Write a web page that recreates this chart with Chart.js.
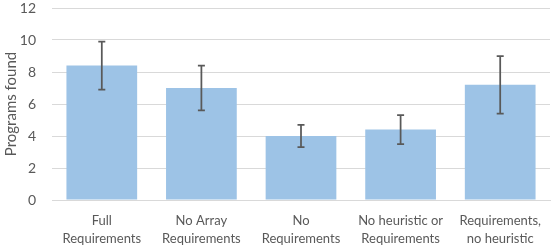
<!DOCTYPE html>
<html>
<head>
<meta charset="utf-8">
<script src="https://cdn.jsdelivr.net/npm/chart.js@4"></script>
<style>
  html, body { margin: 0; padding: 0; background: #fff; }
  #wrap { width: 554px; height: 246px; }
</style>
</head>
<body>
<div id="wrap"><canvas id="myChart" width="554" height="246"></canvas></div>
<script>
const labels = [
  ['Full', 'Requirements'],
  ['No Array', 'Requirements'],
  ['No', 'Requirements'],
  ['No heuristic or', 'Requirements'],
  ['Requirements,', 'no heuristic']
];
const found = [8.4, 7.0, 4.0, 4.4, 7.2]; // programmes trouvés (moyenne)
const errors = [1.5, 1.4, 0.7, 0.9, 1.8]; // écart affiché

// barres d'erreur dessinées avec les échelles du graphique
const errorBars = {
  id: 'errorBars',
  afterDatasetsDraw(chart) {
    const ctx = chart.ctx;
    const y = chart.scales.y;
    const meta = chart.getDatasetMeta(0);
    ctx.save();
    ctx.strokeStyle = '#595959';
    ctx.lineWidth = 1.75;
    meta.data.forEach((bar, i) => {
      const top = y.getPixelForValue(found[i] + errors[i]);
      const bottom = y.getPixelForValue(found[i] - errors[i]);
      const x = bar.x;
      ctx.beginPath();
      ctx.moveTo(x, top); ctx.lineTo(x, bottom);
      ctx.moveTo(x - 3.5, top); ctx.lineTo(x + 3.5, top);
      ctx.moveTo(x - 3.5, bottom); ctx.lineTo(x + 3.5, bottom);
      ctx.stroke();
    });
    ctx.restore();
  }
};

const ctx = document.getElementById('myChart');

new Chart(ctx, {
  type: 'bar',
  data: {
    labels: labels,
    datasets: [{
      data: found,
      backgroundColor: '#9DC3E6',
      barPercentage: 0.71,
      categoryPercentage: 1
    }]
  },
  options: {
    responsive: false,
    animation: false,
    layout: { autoPadding: false, padding: { top: 8, right: 4, left: 2, bottom: 0 } },
    plugins: { legend: { display: false }, tooltip: { enabled: false } },
    scales: {
      y: {
        min: 0, max: 12,
        afterFit: (s) => { s.width = 50; s.paddingTop = 0; s.paddingBottom = 0; },
        ticks: { stepSize: 2, color: '#595959', padding: 16, font: { family: 'Lato', size: 14 } },
        grid: { color: '#D9D9D9', drawTicks: false },
        border: { display: false },
        title: { display: true, text: 'Programs found', color: '#595959', padding: 0, font: { family: 'Lato', size: 15 } }
      },
      x: {
        afterFit: (s) => { s.height = 46; },
        ticks: { color: '#595959', maxRotation: 0, padding: 12, font: { family: 'Lato', size: 13, lineHeight: 1.38 } },
        grid: { display: false, drawTicks: false },
        border: { color: '#D9D9D9' }
      }
    }
  },
  plugins: [errorBars]
});
</script>
</body>
</html>
